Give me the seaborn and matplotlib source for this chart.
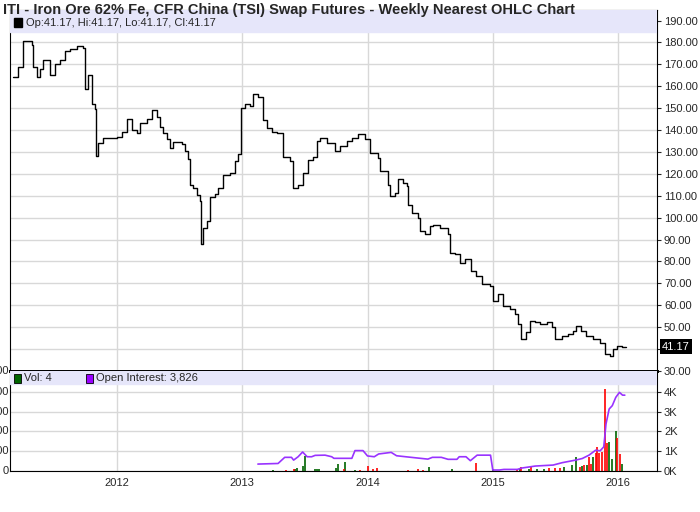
import numpy as np
import matplotlib
matplotlib.use("Agg")
import matplotlib.pyplot as plt
from matplotlib.patches import Rectangle
import seaborn as sns

sns.set_style("white")
plt.rcParams['font.family'] = ['Liberation Sans', 'DejaVu Sans']

# weekly closes (decimal year, price)
price_t = [2011.173, 2011.213, 2011.252, 2011.319, 2011.332, 2011.359, 2011.385, 2011.412,
           2011.465, 2011.505, 2011.545, 2011.585, 2011.625, 2011.678, 2011.731, 2011.745,
           2011.771, 2011.798, 2011.824, 2011.830, 2011.851, 2011.891, 2011.997, 2012.037,
           2012.077, 2012.117, 2012.157, 2012.184, 2012.237, 2012.277, 2012.317, 2012.343,
           2012.370, 2012.396, 2012.423, 2012.450, 2012.516, 2012.543, 2012.569, 2012.583,
           2012.609, 2012.636, 2012.662, 2012.668, 2012.689, 2012.716, 2012.742, 2012.782,
           2012.809, 2012.849, 2012.902, 2012.942, 2012.968, 2012.987, 2013.022, 2013.061,
           2013.088, 2013.128, 2013.168, 2013.194, 2013.234, 2013.274, 2013.327, 2013.381,
           2013.407, 2013.447, 2013.487, 2013.527, 2013.567, 2013.593, 2013.620, 2013.673,
           2013.740, 2013.780, 2013.833, 2013.873, 2013.926, 2013.979, 2014.019, 2014.086,
           2014.099, 2014.152, 2014.165, 2014.179, 2014.219, 2014.245, 2014.285, 2014.312,
           2014.325, 2014.352, 2014.405, 2014.418, 2014.458, 2014.498, 2014.524, 2014.578,
           2014.644, 2014.658, 2014.697, 2014.737, 2014.777, 2014.830, 2014.870, 2014.910,
           2014.977, 2015.003, 2015.043, 2015.083, 2015.136, 2015.176, 2015.203, 2015.229,
           2015.269, 2015.296, 2015.336, 2015.376, 2015.429, 2015.469, 2015.496, 2015.549,
           2015.602, 2015.642, 2015.668, 2015.708, 2015.748, 2015.801, 2015.855, 2015.895,
           2015.934, 2015.961, 2015.988, 2016.028, 2016.067]
price_c = [164, 169, 180.7, 179, 169, 164, 168, 172,
           165, 170, 172, 176, 177, 178.5, 177.5, 158.6,
           165, 151.7, 149.5, 128, 134, 136.5, 137, 139,
           145, 140, 138.5, 143, 145, 149, 146, 141.5,
           138.5, 136, 132, 134.5, 133.5, 130.5, 127, 115,
           113.5, 110.5, 107.5, 88, 95.5, 98.5, 109.6, 111,
           113.5, 119.5, 120.5, 126, 129, 150, 152, 151,
           156.5, 155, 144.5, 141, 139, 138.5, 127.5, 126,
           113.5, 115, 120.5, 126.5, 127.5, 135, 136.5, 134,
           130.4, 132.7, 135, 136.5, 138, 135.8, 129.6, 127.4,
           121.3, 121.3, 115, 109.9, 111.4, 117.5, 116, 114.4,
           106, 102.3, 100, 93.9, 92.5, 96.2, 96.7, 95.5,
           92.5, 84, 83.3, 79.5, 81, 75.7, 73.4, 69.6,
           68.8, 62, 65, 59.8, 58.2, 56, 51.4, 44.6,
           47.6, 53, 52.2, 51.4, 52.2, 49.9, 44.6, 46.1,
           46.9, 48.4, 50.7, 48.4, 46.1, 44.6, 43, 37.7,
           37, 40, 41.5, 40.8, 41.17]

# open interest (K)
oi_t = [2013.125, 2013.286, 2013.339, 2013.393, 2013.41, 2013.446, 2013.482, 2013.518, 2013.554,
        2013.582, 2013.661, 2013.714, 2013.732, 2013.875, 2013.9, 2013.964, 2014.0, 2014.054,
        2014.089, 2014.14, 2014.189, 2014.232, 2014.304, 2014.482, 2014.518, 2014.589, 2014.643,
        2014.714, 2014.732, 2014.786, 2014.821, 2014.875, 2014.982, 2015.0, 2015.054, 2015.089,
        2015.196, 2015.232, 2015.339, 2015.482, 2015.554, 2015.661, 2015.714, 2015.768, 2015.821,
        2015.857, 2015.886, 2015.904, 2015.929, 2015.954, 2015.982, 2016.011, 2016.036, 2016.054]
oi_k = [0.35, 0.38, 0.69, 0.69, 0.55, 0.72, 0.96, 0.72, 0.72,
        0.79, 0.8, 0.72, 0.64, 0.64, 1.03, 1.03, 0.76, 0.72,
        0.86, np.nan, 0.94, 0.77, 0.72, 0.6, 0.69, 0.69, 0.59,
        0.59, 0.72, 0.72, 0.52, 0.8, 0.8, 0.05, 0.05, 0.08,
        0.08, 0.15, 0.25, 0.3, 0.42, 0.55, 0.63, 0.8, 1.05,
        1.02, 1.22, 2.38, 3.13, 3.3, 3.72, 3.97, 3.83, 3.83]

# volume bars (K)
vol_up_t = [2013.243, 2013.418, 2013.436, 2013.482, 2013.504, 2013.579, 2013.6, 2013.614, 2013.75,
            2013.768, 2013.821, 2013.9, 2014.493, 2014.671, 2015.0, 2015.214, 2015.286, 2015.357,
            2015.411, 2015.571, 2015.632, 2015.661, 2015.714, 2015.75, 2015.804, 2015.929,
            2015.954, 2015.982, 2016.029]
vol_up = [0.05, 0.12, 0.15, 0.25, 0.75, 0.08, 0.12, 0.08, 0.15,
          0.35, 0.47, 0.05, 0.22, 0.1, 0.1, 0.1, 0.1, 0.12,
          0.08, 0.2, 0.3, 0.7, 0.25, 0.3, 0.7, 1.45,
          0.62, 2.02, 0.35]
vol_dn_t = [2013.346, 2013.411, 2013.814, 2013.939, 2014.0, 2014.043, 2014.079, 2014.321, 2014.4,
            2014.439, 2014.864, 2015.196, 2015.225, 2015.304, 2015.446, 2015.5, 2015.536, 2015.696,
            2015.732, 2015.768, 2015.786, 2015.821, 2015.832, 2015.85, 2015.868, 2015.893,
            2015.911, 2015.993, 2016.018]
vol_dn = [0.06, 0.1, 0.1, 0.05, 0.25, 0.1, 0.15, 0.05, 0.1,
          0.05, 0.4, 0.08, 0.2, 0.2, 0.15, 0.15, 0.15, 0.2,
          0.3, 0.7, 0.35, 0.9, 1.2, 0.9, 0.95, 4.15,
          1.4, 1.65, 0.85]

W, H = 700, 512
fig = plt.figure(figsize=(7, 5.12), dpi=100)
ax = fig.add_axes([10 / W, 1 - 371 / H, 647 / W, 361 / H])
ax2 = fig.add_axes([10 / W, 1 - 471 / H, 647 / W, 100 / H])
xmin, xmax = 2011.146, 2016.311
years = [2012, 2013, 2014, 2015, 2016]
grid_c = '#d8d8d8'

sns.lineplot(x=price_t, y=price_c, ax=ax, color='black', lw=1, drawstyle='steps-post')
ax.set_xlim(xmin, xmax)
ax.set_ylim(30, 194.8)
ax.set_xticks(years)
ax.set_xticklabels([])
ax.yaxis.tick_right()
ax.set_yticks(range(30, 191, 10))
ax.set_yticklabels([f"{v:.2f}" for v in range(30, 191, 10)], fontsize=8)
ax.grid(True, color=grid_c, lw=1)
ax.tick_params(length=3, pad=2, direction='out', right=True)
ax.add_patch(Rectangle((0, 1 - 22 / 361), 1, 22 / 361, transform=ax.transAxes,
                       color='#e6e6fa', zorder=3))
ax.add_patch(Rectangle((0.006, 0.952), 0.013, 0.026, transform=ax.transAxes,
                       color='black', zorder=4))
ax.text(0.024, 0.965, "Op:41.17, Hi:41.17, Lo:41.17, Cl:41.17", transform=ax.transAxes,
        fontsize=8, va='center', zorder=4)
ax.text(1.008, price_c[-1], f"{price_c[-1]:.2f}", transform=ax.get_yaxis_transform(),
        fontsize=8, va='center', ha='left', color='white',
        bbox=dict(facecolor='black', edgecolor='none', pad=1.5), zorder=5)
for s in ax.spines.values():
    s.set_color('black')
ax.spines['bottom'].set_linewidth(2)

ax2.vlines(vol_up_t, 0, vol_up, color='#006400', lw=1.2)
ax2.vlines(vol_dn_t, 0, vol_dn, color='red', lw=1.2)
sns.lineplot(x=oi_t, y=oi_k, ax=ax2, color='#9933ff', lw=1.2)
ax2.set_xlim(xmin, xmax)
ax2.set_ylim(0, 5.05)
ax2.set_xticks(years)
ax2.set_xticklabels([str(y) for y in years], fontsize=8)
ax2.set_yticks([0, 1, 2, 3, 4])
ax2.yaxis.tick_right()
ax2.set_yticklabels(["0K", "1K", "2K", "3K", "4K"], fontsize=8)
ax2.grid(True, color=grid_c, lw=1)
ax2.tick_params(length=3, pad=2, right=True)
for v, lab in zip([0, 1, 2, 3, 4], ["0", "100", "200", "300", "400"]):
    ax2.text(-0.002, v, lab, transform=ax2.get_yaxis_transform(), ha='right', va='center',
             fontsize=8)
ax2.text(-0.002, 5.05, "300", transform=ax2.get_yaxis_transform(), ha='right', va='center',
         fontsize=8)
ax2.add_patch(Rectangle((0, 1 - 13 / 100), 1, 13 / 100, transform=ax2.transAxes,
                        color='#e6e6fa', zorder=3))
ax2.add_patch(Rectangle((0.006, 0.885), 0.011, 0.085, transform=ax2.transAxes,
                        facecolor='#006400', edgecolor='black', lw=0.6, zorder=4))
ax2.text(0.021, 0.93, "Vol: 4", transform=ax2.transAxes, fontsize=8, va='center', zorder=4)
ax2.add_patch(Rectangle((0.118, 0.885), 0.011, 0.085, transform=ax2.transAxes,
                        facecolor='#9900ff', edgecolor='black', lw=0.6, zorder=4))
ax2.text(0.133, 0.93, "Open Interest: 3,826", transform=ax2.transAxes, fontsize=8,
         va='center', zorder=4)
for s in ax2.spines.values():
    s.set_color('black')
ax2.spines['top'].set_linewidth(2)

fig.text(3 / W, 1 - 10 / H, "ITI - Iron Ore 62% Fe, CFR China (TSI) Swap Futures - Weekly Nearest OHLC Chart",
         fontsize=10.5, fontweight='bold', va='center', ha='left')

fig.savefig("out.png", dpi=100)
